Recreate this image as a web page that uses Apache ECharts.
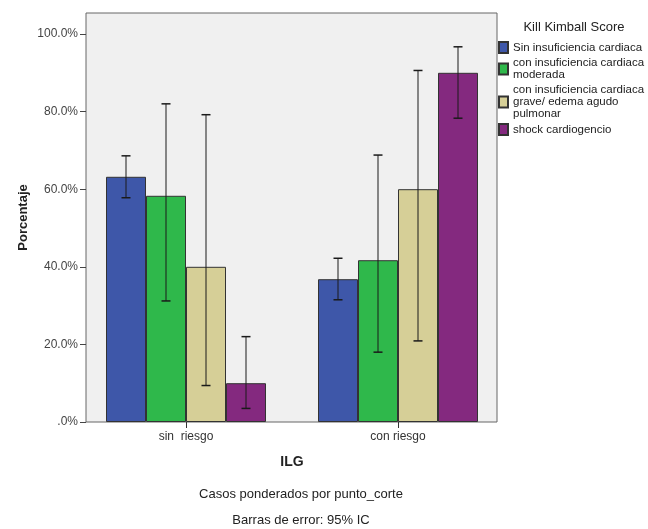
<!DOCTYPE html>
<html>
<head>
<meta charset="utf-8">
<script src="https://cdn.jsdelivr.net/npm/echarts@6/dist/echarts.min.js"></script>
<style>
html,body{margin:0;padding:0;background:#fff;}
#chart{width:648px;height:529px;}
</style>
</head>
<body>
<div id="chart"></div>
<script>
// ---- data ----
const categories = ['sin  riesgo', 'con riesgo'];
const seriesNames = [
  'Sin insuficiencia cardiaca',
  'con insuficiencia cardiaca\nmoderada',
  'con insuficiencia cardiaca\ngrave/ edema agudo\npulmonar',
  'shock cardiogencio'
];
const sinInsuficiencia = [63.2, 36.8];
const insuficienciaModerada = [58.3, 41.7];
const insuficienciaGrave = [40.0, 60.0];
const shockCardiogenico = [10.0, 90.0];
const lowSin = [57.8, 31.5];
const highSin = [68.6, 42.2];
const lowModerada = [31.2, 18.0];
const highModerada = [82.0, 68.8];
const lowGrave = [9.4, 20.9];
const highGrave = [79.2, 90.6];
const lowShock = [3.5, 78.3];
const highShock = [22.0, 96.7];
const yTicks = [0, 20, 40, 60, 80, 100];

// ---- style ----
const colors = ['#3e57a9', '#2fb84b', '#d6cf97', '#84297f'];
const BAR_W = 40;
const font = 'Arial, "Liberation Sans", sans-serif';

const values = [sinInsuficiencia, insuficienciaModerada, insuficienciaGrave, shockCardiogenico];
const lows = [lowSin, lowModerada, lowGrave, lowShock];
const highs = [highSin, highModerada, highGrave, highShock];

const chart = echarts.init(document.getElementById('chart'), null, {renderer: 'canvas'});

const barSeries = values.map((v, i) => ({
  name: seriesNames[i],
  type: 'bar',
  xAxisIndex: 2, yAxisIndex: 2,
  data: v,
  barWidth: BAR_W,
  barGap: '0%',
  itemStyle: {color: colors[i], borderColor: '#333', borderWidth: 1},
  z: 2
}));

const errSeries = values.map((v, i) => ({
  type: 'custom',
  xAxisIndex: 2, yAxisIndex: 2,
  data: categories.map((c, k) => [k, lows[i][k], highs[i][k]]),
  encode: {x: 0, y: [1, 2]},
  z: 5,
  silent: true,
  renderItem: function (params, api) {
    const k = api.value(0);
    const lo = api.coord([k, api.value(1)]);
    const hi = api.coord([k, api.value(2)]);
    const x = lo[0] + (i - 1.5) * BAR_W;
    const cap = 4.5;
    const st = {stroke: '#1a1a1a', lineWidth: 1};
    return {
      type: 'group',
      children: [
        {type: 'line', shape: {x1: x, y1: lo[1], x2: x, y2: hi[1]}, style: st},
        {type: 'line', shape: {x1: x - cap, y1: lo[1], x2: x + cap, y2: lo[1]}, style: {stroke: '#1a1a1a', lineWidth: 1.5}},
        {type: 'line', shape: {x1: x - cap, y1: hi[1], x2: x + cap, y2: hi[1]}, style: {stroke: '#1a1a1a', lineWidth: 1.5}}
      ]
    };
  }
}));

const option = {
  animation: false,
  textStyle: {fontFamily: font},
  grid: [
    {left: 86, top: 13, width: 411, height: 409, show: true, backgroundColor: '#f0f0f0', borderColor: '#666', borderWidth: 1},
    {left: 86, top: 34, width: 411, height: 388},
    {left: 80, top: 34, width: 424, height: 388}
  ],
  xAxis: [
    {gridIndex: 0, type: 'value', show: false},
    {gridIndex: 1, type: 'value', show: false},
    {gridIndex: 2, type: 'category', data: categories,
      axisLine: {show: false},
      axisTick: {show: true, alignWithLabel: true, length: 6, lineStyle: {color: '#333'}},
      axisLabel: {color: '#333', fontSize: 12, margin: 9},
      name: 'ILG', nameLocation: 'middle', nameGap: 33,
      nameTextStyle: {fontSize: 14, fontWeight: 'bold', color: '#222'}
    }
  ],
  yAxis: [
    {gridIndex: 0, type: 'value', min: 0, max: 100,
      axisLine: {show: false}, axisTick: {show: false}, axisLabel: {show: false}, splitLine: {show: false},
      name: 'Porcentaje', nameLocation: 'middle', nameGap: 56, nameRotate: 90,
      nameTextStyle: {fontSize: 13, fontWeight: 'bold', color: '#222'}
    },
    {gridIndex: 1, type: 'value', min: yTicks[0], max: yTicks[yTicks.length - 1], interval: 20,
      axisLine: {show: false},
      axisTick: {show: true, length: 6, lineStyle: {color: '#444'}},
      splitLine: {show: false},
      axisLabel: {color: '#444', fontSize: 12, margin: 8,
        formatter: v => v === 0 ? '.0%' : v.toFixed(1) + '%'}
    },
    {gridIndex: 2, type: 'value', min: 0, max: 100, show: false}
  ],
  legend: {
    orient: 'vertical', left: 498, top: 41, padding: 0,
    itemWidth: 9, itemHeight: 11, itemGap: 3,
    icon: 'rect',
    data: seriesNames,
    textStyle: {fontSize: 11.5, lineHeight: 12, color: '#222'}
  },
  graphic: [
    {type: 'text', style: {x: 574, y: 27, text: 'Kill Kimball Score', textAlign: 'center', textVerticalAlign: 'middle', font: '13px ' + font, fill: '#222'}},
    {type: 'text', style: {x: 301, y: 494, text: 'Casos ponderados por punto_corte', textAlign: 'center', textVerticalAlign: 'middle', font: '13px ' + font, fill: '#222'}},
    {type: 'text', style: {x: 301, y: 520, text: 'Barras de error: 95% IC', textAlign: 'center', textVerticalAlign: 'middle', font: '13px ' + font, fill: '#222'}}
  ],
  series: barSeries.concat(errSeries)
};
chart.setOption(option);
</script>
</body>
</html>
